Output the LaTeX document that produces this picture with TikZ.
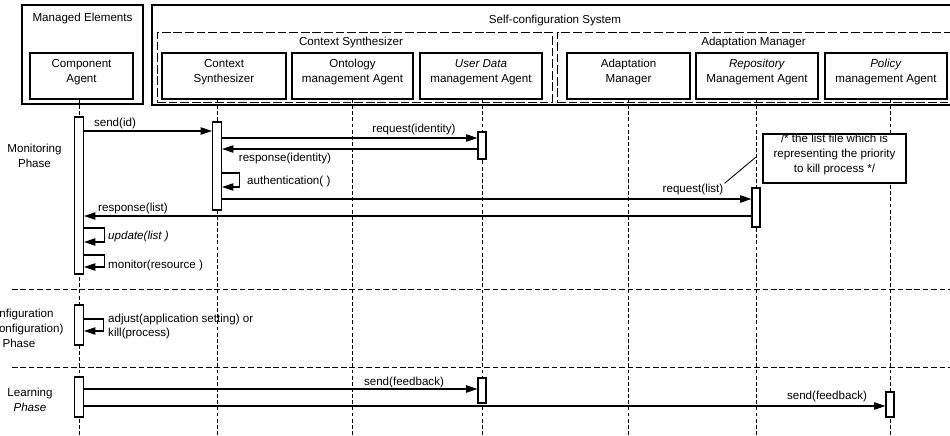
\documentclass[tikz,border=0pt]{standalone}
\usepackage{fontspec}
\setmainfont{Liberation Sans}
\usepackage{tikz}
\usetikzlibrary{arrows.meta}
\usetikzlibrary{fit}

\begin{document}
\begin{tikzpicture}%
	[x={(0.020000cm, 0.000000cm)},
	y={(0.000000cm, -0.020000cm)},
	every node/.style={font=\fontsize{6.6}{8.5}\selectfont},
	frame/.style={draw, line width=0.7pt, inner sep=0pt},
	group/.style={draw, dash pattern=on 5pt off 1.6pt, line width=0.5pt, inner sep=0pt},
	actor/.style={draw, line width=0.6pt, inner sep=0pt, align=center},
	lifeline/.style={dash pattern=on 2.2pt off 1.3pt, line width=0.5pt},
	act/.style={draw, fill=white, line width=0.6pt, inner sep=0pt},
	msg/.style={line width=0.6pt, -{Triangle[length=6.5pt,width=4.2pt]}},
	lbl/.style={inner sep=0.5pt},
	phase/.style={dash pattern=on 3.2pt off 1.6pt, line width=0.5pt},
	note/.style={draw, fill=white, line width=0.6pt, inner sep=0pt, align=center}]
%
\useasboundingbox (0,0) rectangle (950,436);
%%
%% Coordinate of the lifelines:
%%
\coordinate (ca-top) at (79,99);
\coordinate (ca-bot) at (79,440);
\coordinate (cs-top) at (217,99);
\coordinate (cs-bot) at (217,440);
\coordinate (om-top) at (352,99);
\coordinate (om-bot) at (352,440);
\coordinate (ud-top) at (482,99);
\coordinate (ud-bot) at (482,440);
\coordinate (am-top) at (628,99);
\coordinate (am-bot) at (628,440);
\coordinate (rm-top) at (756,99);
\coordinate (rm-bot) at (756,440);
\coordinate (pm-top) at (890,99);
\coordinate (pm-bot) at (890,440);
%%
%%
%% Drawing the header boxes
%%
\node[frame, fit={(22,5) (143,104)}] (managed) {};
\node (managed-t) at (82.5,19) {Managed Elements};
\node[frame, fit={(152,5) (975,105)}] (selfconf) {};
\node (selfconf-t) at (555,21) {Self-configuration System};
\node[group, fit={(157,32) (552,102)}] (csgroup) {};
\node (csgroup-t) at (351,43) {Context Synthesizer};
\node[group, fit={(557,32) (975,102)}] (amgroup) {};
\node (amgroup-t) at (753.5,43) {Adaptation Manager};
%%
\node[actor, fit={(30,53) (133,99)}] (ca) {Component\\Agent};
\node[actor, fit={(162,53) (286,99)}] (cs) {Context\\Synthesizer};
\node[actor, fit={(292,53) (413,99)}] (om) {Ontology\\management Agent};
\node[actor, fit={(420,53) (542,99)}] (ud) {\textit{User Data}\\management Agent};
\node[actor, fit={(567,53) (690,99)}] (am) {Adaptation\\Manager};
\node[actor, fit={(696,53) (818,99)}] (rm) {\textit{Repository}\\Management Agent};
\node[actor, fit={(825,53) (947,99)}] (pm) {\textit{Policy}\\management Agent};
%%
%%
%% Drawing the lifelines and phase separators
%%
\draw[lifeline] (ca-top) -- (ca-bot);
\draw[lifeline] (cs-top) -- (cs-bot);
\draw[lifeline] (om-top) -- (om-bot);
\draw[lifeline] (ud-top) -- (ud-bot);
\draw[lifeline] (am-top) -- (am-bot);
\draw[lifeline] (rm-top) -- (rm-bot);
\draw[lifeline] (pm-top) -- (pm-bot);
\draw[phase] (12,289) -- (955,289);
\draw[phase] (12,367) -- (955,367);
%%
%%
%% Drawing the activations
%%
\node[act, fit={(74.5,117) (83.5,274)}] (caM) {};
\node[act, fit={(212.5,122) (221.5,210)}] (csM) {};
\node[act, fit={(478,132) (486,159)}] (udM) {};
\node[act, fit={(752,188) (760,227)}] (rmM) {};
\node[act, fit={(74.5,305) (83.5,345)}] (caC) {};
\node[act, fit={(74.5,377) (83.5,417)}] (caL) {};
\node[act, fit={(478,378) (486,403)}] (udL) {};
\node[act, fit={(886,392) (894,417)}] (pmL) {};
%%
%%
%% Drawing the phase labels
%%
\node[align=center] (ph-mon) at (34.5,155.5) {Monitoring\\Phase};
\node[align=center] (ph-conf) at (19,328) {Configuration\\(Reconfiguration)\\Phase};
\node[align=center] (ph-learn) at (30,400) {Learning\\\textit{Phase}};
%%
%%
%% Drawing the messages
%%
\draw[msg] (caM.east |- 0,131) -- (csM.west |- 0,131);
\draw[msg] (csM.east |- 0,138) -- (udM.west |- 0,138);
\draw[msg] (udM.west |- 0,149) -- (csM.east |- 0,149);
\draw[msg] (csM.east |- 0,173) -- ++(17,0) |- (csM.east |- 0,187);
\draw[msg] (csM.east |- 0,199) -- (rmM.west |- 0,199);
\draw[msg] (rmM.west |- 0,216) -- (caM.east |- 0,216);
\draw[msg] (caM.east |- 0,228) -- ++(20,0) |- (caM.east |- 0,242);
\draw[msg] (caM.east |- 0,255) -- ++(20,0) |- (caM.east |- 0,267);
\draw[msg] (caC.east |- 0,319) -- ++(19,0) |- (caC.east |- 0,331);
\draw[msg] (caL.east |- 0,389) -- (udL.west |- 0,389);
\draw[msg] (caL.east |- 0,406) -- (pmL.west |- 0,406);
%%
\node[lbl] (l-sendid) at (115,123) {send(id)};
\node[lbl] (l-reqid) at (414,130) {request(identity)};
\node[lbl] (l-respid) at (285,158) {response(identity)};
\node[lbl, anchor=west] (l-auth) at (246,181) {authentication( )};
\node[lbl] (l-reqlist) at (693,190) {request(list)};
\node[lbl] (l-resplist) at (133,208) {response(list)};
\node[lbl, anchor=west] (l-update) at (107,236) {\textit{update(list )}};
\node[lbl, anchor=west] (l-monitor) at (107,265) {monitor(resource )};
\node[lbl, anchor=west, align=left] (l-adjust) at (107,326.5) {adjust(application setting) or\\kill(process)};
\node[lbl] (l-fb1) at (404,382) {send(feedback)};
\node[lbl] (l-fb2) at (827,396) {send(feedback)};
%%
%%
%% Drawing the note
%%
\node[note, fit={(763,134) (906,183)}] (nt) {/* the list file which is\\representing the priority\\to kill process */};
\draw[line width=0.5pt] (l-reqlist.north east) -- (rm-top |- 0,157);
%%
%%
\end{tikzpicture}
\end{document}
